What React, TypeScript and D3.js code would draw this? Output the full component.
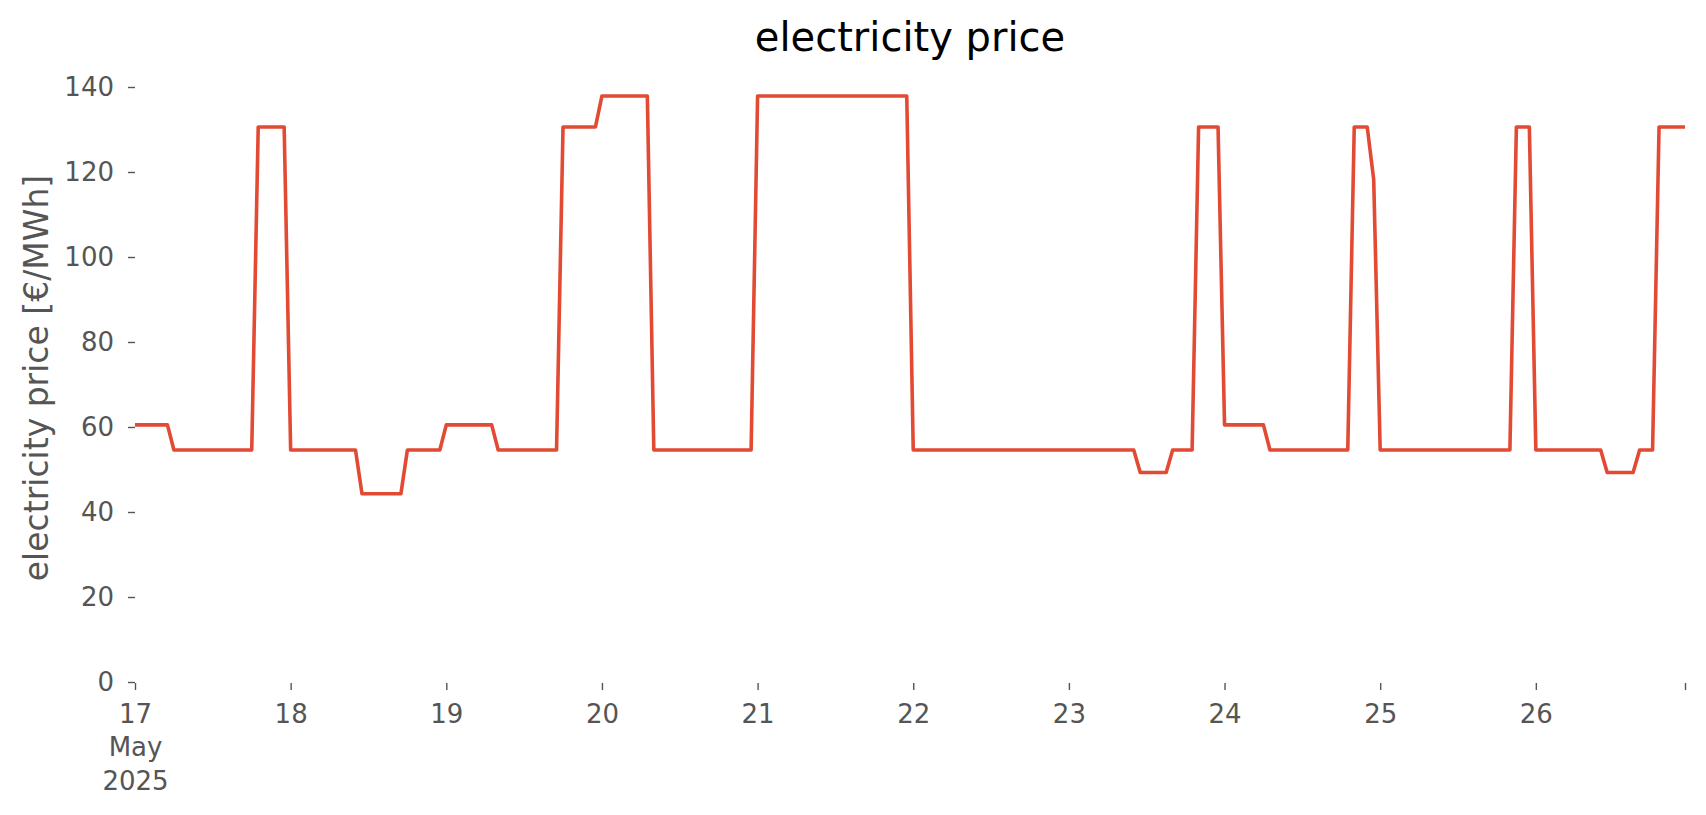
import { useEffect, useRef } from "react";
import { axisBottom, axisLeft, line, scaleLinear, scaleUtc, select } from "d3";

// hourly day-ahead price, €/MWh, one array per day (00:00 .. 23:00)
const may17 = [60.5, 60.5, 60.5, 60.5, 60.5, 60.5, 54.6, 54.6, 54.6, 54.6, 54.6, 54.6, 54.6, 54.6, 54.6, 54.6, 54.6, 54.6, 54.6, 130.6, 130.6, 130.6, 130.6, 130.6];
const may18 = [54.6, 54.6, 54.6, 54.6, 54.6, 54.6, 54.6, 54.6, 54.6, 54.6, 54.6, 44.3, 44.3, 44.3, 44.3, 44.3, 44.3, 44.3, 54.6, 54.6, 54.6, 54.6, 54.6, 54.6];
const may19 = [60.5, 60.5, 60.5, 60.5, 60.5, 60.5, 60.5, 60.5, 54.6, 54.6, 54.6, 54.6, 54.6, 54.6, 54.6, 54.6, 54.6, 54.6, 130.6, 130.6, 130.6, 130.6, 130.6, 130.6];
const may20 = [137.9, 137.9, 137.9, 137.9, 137.9, 137.9, 137.9, 137.9, 54.6, 54.6, 54.6, 54.6, 54.6, 54.6, 54.6, 54.6, 54.6, 54.6, 54.6, 54.6, 54.6, 54.6, 54.6, 54.6];
const may21 = [137.9, 137.9, 137.9, 137.9, 137.9, 137.9, 137.9, 137.9, 137.9, 137.9, 137.9, 137.9, 137.9, 137.9, 137.9, 137.9, 137.9, 137.9, 137.9, 137.9, 137.9, 137.9, 137.9, 137.9];
const may22 = [54.6, 54.6, 54.6, 54.6, 54.6, 54.6, 54.6, 54.6, 54.6, 54.6, 54.6, 54.6, 54.6, 54.6, 54.6, 54.6, 54.6, 54.6, 54.6, 54.6, 54.6, 54.6, 54.6, 54.6];
const may23 = [54.6, 54.6, 54.6, 54.6, 54.6, 54.6, 54.6, 54.6, 54.6, 54.6, 54.6, 49.3, 49.3, 49.3, 49.3, 49.3, 54.6, 54.6, 54.6, 54.6, 130.6, 130.6, 130.6, 130.6];
const may24 = [60.5, 60.5, 60.5, 60.5, 60.5, 60.5, 60.5, 54.6, 54.6, 54.6, 54.6, 54.6, 54.6, 54.6, 54.6, 54.6, 54.6, 54.6, 54.6, 54.6, 130.6, 130.6, 130.6, 118.2];
const may25 = [54.6, 54.6, 54.6, 54.6, 54.6, 54.6, 54.6, 54.6, 54.6, 54.6, 54.6, 54.6, 54.6, 54.6, 54.6, 54.6, 54.6, 54.6, 54.6, 54.6, 54.6, 130.6, 130.6, 130.6];
const may26 = [54.6, 54.6, 54.6, 54.6, 54.6, 54.6, 54.6, 54.6, 54.6, 54.6, 54.6, 49.3, 49.3, 49.3, 49.3, 49.3, 54.6, 54.6, 54.6, 130.6, 130.6, 130.6, 130.6, 130.6];

const days = [may17, may18, may19, may20, may21, may22, may23, may24, may25, may26];
const dayLabels = ["17", "18", "19", "20", "21", "22", "23", "24", "25", "26"];
const monthLabel = "May";
const yearLabel = "2025";
const yTicks = [0, 20, 40, 60, 80, 100, 120, 140];

const HOUR = 3600 * 1000;
const start = Date.UTC(2025, 4, 17);

interface Point {
  date: Date;
  value: number;
}

const points: Point[] = days.flatMap((day, d) =>
  day.map((value, h) => ({ date: new Date(start + (d * 24 + h) * HOUR), value }))
);
const dayDates = dayLabels.map((_, d) => new Date(start + d * 24 * HOUR));

const width = 1706;
const height = 815;
const left = 135;
const right = 1685;
const top = 87;
const bottom = 682;

const font = "DejaVu Sans, sans-serif";
const grey = "#555555";

export default function App() {
  const xRef = useRef<SVGGElement>(null);
  const yRef = useRef<SVGGElement>(null);

  const scaleX = scaleUtc()
    .domain([points[0].date, points[points.length - 1].date])
    .range([left, right]);
  const scaleY = scaleLinear().domain([0, 140]).range([bottom, top]);

  const path = line<Point>()
    .x((p) => scaleX(p.date))
    .y((p) => scaleY(p.value))(points);

  useEffect(() => {
    document.body.style.margin = "0";
    if (xRef.current) {
      const g = select(xRef.current);
      g.call(
        axisBottom(scaleX)
          .tickValues([...dayDates, points[points.length - 1].date])
          .tickFormat((_, i) => (i < dayLabels.length ? dayLabels[i] : ""))
          .tickSize(7)
          .tickSizeOuter(0)
          .tickPadding(15)
      );
      g.select(".domain").remove();
      g.selectAll(".tick line").attr("stroke", grey).attr("stroke-width", 1.4);
      g.selectAll(".tick text")
        .attr("fill", grey)
        .style("font-family", font)
        .style("font-size", "26px");
      // first tick also carries month and year
      const first = g.select(".tick text");
      first.text(null);
      first.append("tspan").attr("x", 0).text(dayLabels[0]);
      first.append("tspan").attr("x", 0).attr("dy", "1.27em").text(monthLabel);
      first.append("tspan").attr("x", 0).attr("dy", "1.27em").text(yearLabel);
    }
    if (yRef.current) {
      const g = select(yRef.current);
      g.call(axisLeft(scaleY).tickValues(yTicks).tickSize(7).tickSizeOuter(0).tickPadding(14));
      g.select(".domain").remove();
      g.selectAll(".tick line").attr("stroke", grey).attr("stroke-width", 1.4);
      g.selectAll(".tick text")
        .attr("fill", grey)
        .style("font-family", font)
        .style("font-size", "26px");
    }
  }, []);

  return (
    <svg width={width} height={height} style={{ display: "block", background: "#fff" }}>
      <text
        x={(left + right) / 2}
        y={51}
        textAnchor="middle"
        fontFamily={font}
        fontSize={40}
        fill="#000"
      >
        electricity price
      </text>
      <text
        transform={`translate(48, 378) rotate(-90)`}
        textAnchor="middle"
        fontFamily={font}
        fontSize={33}
        fill={grey}
      >
        electricity price [€/MWh]
      </text>
      <g ref={yRef} transform={`translate(${left}, 0)`} />
      <g ref={xRef} transform={`translate(0, ${bottom + 1})`} />
      <path d={path ?? ""} fill="none" stroke="#E24A33" strokeWidth={3.6} strokeLinejoin="round" />
    </svg>
  );
}
